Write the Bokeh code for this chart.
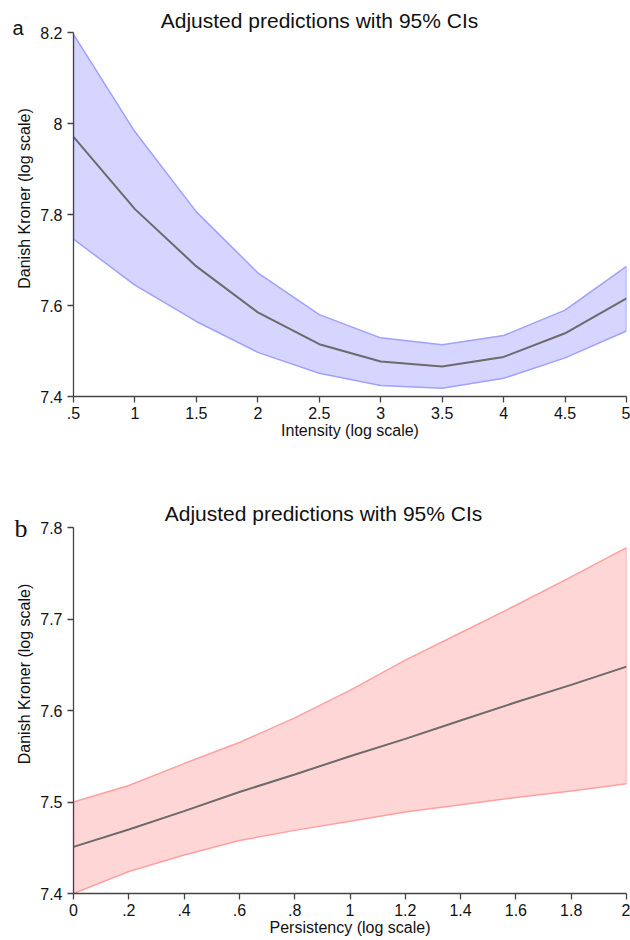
from bokeh.plotting import figure
from bokeh.layouts import column
from bokeh.models import Range1d, FixedTicker, Label, LinearAxis
from bokeh.embed import file_html
from bokeh.resources import INLINE

# ---- Panel a: Intensity ----
intensity = [0.5, 1.0, 1.5, 2.0, 2.5, 3.0, 3.5, 4.0, 4.5, 5.0]
int_mean = [7.971, 7.812, 7.686, 7.585, 7.515, 7.477, 7.466, 7.487, 7.539, 7.616]
int_upper = [8.196, 7.982, 7.806, 7.672, 7.580, 7.529, 7.514, 7.534, 7.590, 7.686]
int_lower = [7.746, 7.645, 7.565, 7.497, 7.451, 7.424, 7.418, 7.440, 7.485, 7.544]
int_xticks = [0.5, 1.0, 1.5, 2.0, 2.5, 3.0, 3.5, 4.0, 4.5, 5.0]
int_xtick_labels = [".5", "1", "1.5", "2", "2.5", "3", "3.5", "4", "4.5", "5"]
int_yticks = [7.4, 7.6, 7.8, 8.0, 8.2]
int_ytick_labels = ["7.4", "7.6", "7.8", "8", "8.2"]

# ---- Panel b: Persistency ----
persistency = [0.0, 0.2, 0.4, 0.6, 0.8, 1.0, 1.2, 1.4, 1.6, 1.8, 2.0]
per_mean = [7.451, 7.470, 7.490, 7.511, 7.530, 7.550, 7.569, 7.589, 7.609, 7.628, 7.648]
per_upper = [7.500, 7.518, 7.542, 7.565, 7.592, 7.622, 7.655, 7.685, 7.715, 7.746, 7.778]
per_lower = [7.400, 7.424, 7.442, 7.458, 7.469, 7.479, 7.489, 7.497, 7.505, 7.512, 7.520]
per_xticks = [0.0, 0.2, 0.4, 0.6, 0.8, 1.0, 1.2, 1.4, 1.6, 1.8, 2.0]
per_xtick_labels = ["0", ".2", ".4", ".6", ".8", "1", "1.2", "1.4", "1.6", "1.8", "2"]
per_yticks = [7.4, 7.5, 7.6, 7.7, 7.8]
per_ytick_labels = ["7.4", "7.5", "7.6", "7.7", "7.8"]

TITLE = "Adjusted predictions with 95% CIs"
YLABEL = "Danish Kroner (log scale)"
FONT = "Liberation Sans"


def make_panel(x, mean, upper, lower, xticks, xlabels, yticks, ylabels,
               xrange, ybounds, yend, xlabel, fill, edge, height, bottom,
               left, right, title_x, title_y, letter, letter_y, letter_font,
               letter_size, letter_standoff):
    p = figure(width=630, height=height, output_backend="svg",
               toolbar_location=None, x_range=Range1d(*xrange),
               y_range=Range1d(ybounds[0], yend), min_border_top=0,
               min_border_bottom=bottom, min_border_left=left,
               min_border_right=right)
    p.outline_line_color = None
    p.grid.visible = False
    p.background_fill_color = "white"
    p.border_fill_color = "white"

    px = list(x) + list(x)[::-1]
    py = list(upper) + list(lower)[::-1]
    p.patch(px, py, fill_color=fill, fill_alpha=1.0, line_color=edge,
            line_width=1.5)
    p.line(x, mean, line_color="#6b6b6b", line_width=2)

    for ax in (p.xaxis[0], p.yaxis[0]):
        ax.axis_line_color = "#444444"
        ax.axis_line_width = 1.3
        ax.major_tick_line_color = "#444444"
        ax.major_tick_line_width = 1.3
        ax.major_tick_out = 6
        ax.major_tick_in = 0
        ax.minor_tick_line_color = None
        ax.major_label_text_font = FONT
        ax.major_label_text_font_size = "16px"
        ax.major_label_text_color = "#111111"
        ax.axis_label_text_font = FONT
        ax.axis_label_text_font_size = "16px"
        ax.axis_label_text_font_style = "normal"
        ax.axis_label_text_color = "#111111"

    p.xaxis.major_label_standoff = 4
    p.xaxis.axis_label_standoff = 0
    p.yaxis.major_label_standoff = 5
    p.yaxis.axis_label_standoff = 4

    p.xaxis.ticker = FixedTicker(ticks=xticks)
    p.xaxis.major_label_overrides = {t: l for t, l in zip(xticks, xlabels)}
    p.yaxis.ticker = FixedTicker(ticks=yticks)
    p.yaxis.major_label_overrides = {t: l for t, l in zip(yticks, ylabels)}
    p.yaxis.bounds = ybounds
    p.xaxis.axis_label = xlabel
    p.yaxis.axis_label = YLABEL

    # panel letter, drawn as the single tick label of an outer left axis
    lax = LinearAxis(ticker=FixedTicker(ticks=[letter_y]),
                     major_label_overrides={letter_y: letter})
    lax.axis_line_color = None
    lax.major_tick_line_color = None
    lax.minor_tick_line_color = None
    lax.major_tick_out = 0
    lax.major_tick_in = 0
    lax.major_label_standoff = letter_standoff
    lax.major_label_text_font = letter_font
    lax.major_label_text_font_size = letter_size
    lax.major_label_text_color = "#111111"
    p.add_layout(lax, "left")

    p.add_layout(Label(x=title_x, y=title_y, x_units="screen",
                       y_units="screen", text=TITLE, text_align="center",
                       text_baseline="middle", text_font=FONT,
                       text_font_size="21px", text_color="#111111"))
    return p


pa = make_panel(intensity, int_mean, int_upper, int_lower, int_xticks,
                int_xtick_labels, int_yticks, int_ytick_labels, (0.5, 5.0),
                (7.4, 8.2), 8.2707, "Intensity (log scale)", "#d5d5ff",
                "#a0a0ff", height=454, bottom=58, left=73, right=4,
                title_x=246, title_y=376, letter="a", letter_y=8.211,
                letter_font=FONT, letter_size="20px", letter_standoff=-10)

pb = make_panel(persistency, per_mean, per_upper, per_lower, per_xticks,
                per_xtick_labels, per_yticks, per_ytick_labels, (0.0, 2.0),
                (7.4, 7.8), 7.8798, "Persistency (log scale)", "#ffd6d6",
                "#ffa0a0", height=486, bottom=47, left=70, right=2,
                title_x=250, title_y=380, letter="b", letter_y=7.7987,
                letter_font="Liberation Serif", letter_size="26px",
                letter_standoff=-14)

layout = column(pa, pb, spacing=0)
open("out.html", "w").write(file_html(layout, INLINE))
